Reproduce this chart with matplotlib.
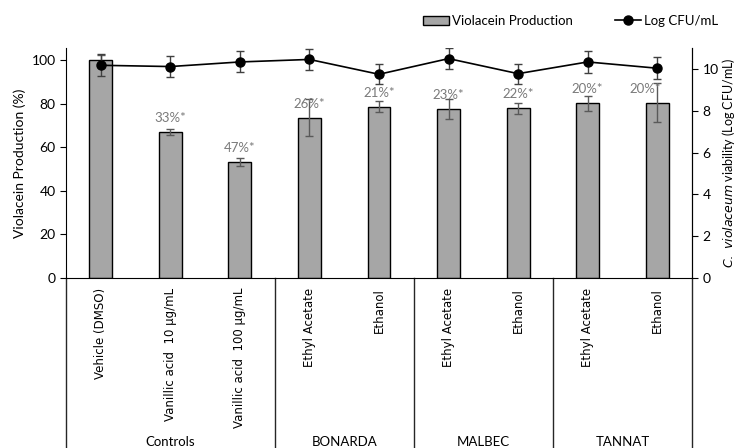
import matplotlib
matplotlib.use('Agg')
import matplotlib.pyplot as plt
from matplotlib.lines import Line2D
import numpy as np

# data
categories = ['Vehicle (DMSO)', 'Vanillic acid  10 µg/mL', 'Vanillic acid  100 µg/mL',
              'Ethyl Acetate', 'Ethanol', 'Ethyl Acetate', 'Ethanol',
              'Ethyl Acetate', 'Ethanol']
groups = ['Controls', 'BONARDA', 'MALBEC', 'TANNAT']
group_sizes = [3, 2, 2, 2]

violacein = [100.0, 66.8, 53.2, 73.5, 78.6, 77.4, 77.8, 80.1, 80.4]
violacein_err = [2.3, 1.4, 1.7, 8.5, 2.6, 4.6, 2.6, 3.4, 9.0]
inhibition = ['', '33%*', '47%*', '26%*', '21%*', '23%*', '22%*', '20%*', '20%*']

log_cfu = [10.17, 10.11, 10.33, 10.45, 9.74, 10.49, 9.77, 10.33, 10.03]
log_cfu_err = [0.52, 0.52, 0.50, 0.50, 0.48, 0.49, 0.48, 0.53, 0.52]


def main():

    matplotlib.rc('font', family=['Lato', 'DejaVu Sans'], size=9.5)

    fig = plt.figure(figsize=(7.36, 4.48), dpi=100)
    ax = fig.add_axes([0.0897, 0.3795, 0.8505, 0.5135])
    ax2 = ax.twinx()

    x = np.arange(len(categories))

    #--------------------------------------------------------------------------
    # bars

    bars = ax.bar(x, violacein, width=0.33, color='#A6A6A6', edgecolor='black',
                  linewidth=1.0, zorder=2)
    ax.errorbar(x, violacein, yerr=violacein_err, fmt='none', ecolor='#595959',
                elinewidth=1.0, capsize=3, capthick=1.0, zorder=3)

    for i, txt in enumerate(inhibition):
        if not txt:
            continue
        dx = -9 if i == len(inhibition) - 1 else 0
        ax.annotate(txt, (x[i], violacein[i]), xytext=(dx, 10),
                    textcoords='offset points', ha='center', va='center',
                    color='#7a7a7a', fontsize=9.5)

    ax.set_xlim(-0.5, len(categories) - 0.5)
    ax.set_ylim(0, 105.5)
    ax.set_yticks([0, 20, 40, 60, 80, 100])
    ax.set_ylabel('Violacein Production (%)', fontsize=10, labelpad=4)

    ax.set_xticks(x)
    ax.set_xticklabels(categories, rotation=90, va='top', ha='center',
                       family='DejaVu Sans', fontsize=8.5)
    ax.tick_params(axis='x', length=0, pad=7)
    ax.tick_params(axis='y', direction='out', length=4, labelsize=10)

    #--------------------------------------------------------------------------
    # line on the right axis

    ax2.errorbar(x, log_cfu, yerr=log_cfu_err, fmt='-o', color='black',
                 markersize=6.5, linewidth=1.2, elinewidth=1.0,
                 ecolor='#404040', capsize=3, capthick=1.0)
    ax2.set_ylim(0, 11)
    ax2.set_yticks([0, 2, 4, 6, 8, 10])
    ax2.tick_params(axis='y', direction='out', length=4, labelsize=10)
    ax2.set_ylabel(r'$\it{C.\ violaceum}$ viability (Log CFU/mL)', fontsize=9,
                   labelpad=1)

    for a in (ax, ax2):
        a.spines['top'].set_visible(False)
    ax2.spines['left'].set_visible(False)
    ax2.spines['bottom'].set_visible(False)

    #--------------------------------------------------------------------------
    # group dividers and group labels below the axis

    trans = ax.get_xaxis_transform()
    edges = np.concatenate([[0], np.cumsum(group_sizes)]) - 0.5
    for e in edges:
        ax.plot([e, e], [0, -0.75], transform=trans, color='#262626',
                linewidth=1.0, clip_on=False)
    for g, lo, hi in zip(groups, edges[:-1], edges[1:]):
        ax.text((lo + hi) / 2, -0.715, g, transform=trans, ha='center',
                va='center', fontsize=9.5)

    #--------------------------------------------------------------------------
    # legend

    line_handle = Line2D([], [], color='black', marker='o', markersize=6.5,
                         linewidth=1.2)
    fig.legend([bars, line_handle], ['Violacein Production', 'Log CFU/mL'],
               loc='center left', bbox_to_anchor=(0.558, 0.953), ncol=2,
               frameon=False, fontsize=9.5, handlelength=2.0, handletextpad=0.2,
               columnspacing=3.2)

    plt.savefig('out.png', dpi=100)


if __name__ == "__main__":
    main()
